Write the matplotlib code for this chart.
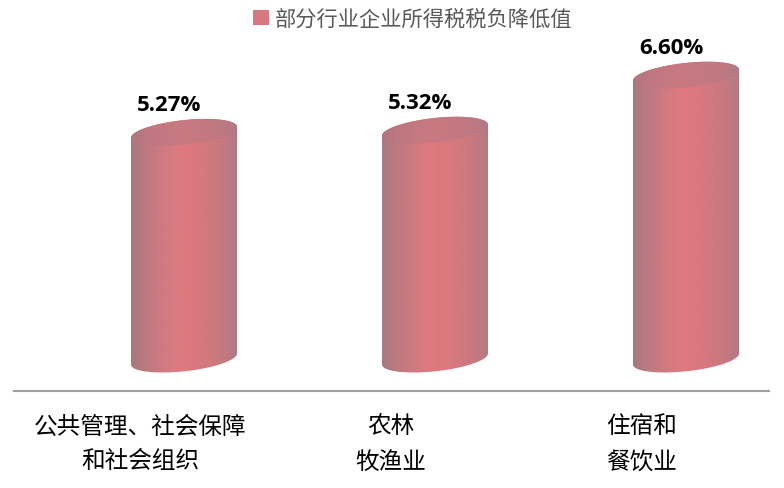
import numpy as np
import matplotlib
matplotlib.use("Agg")
import matplotlib.pyplot as plt
import matplotlib.transforms as mtransforms
from matplotlib.path import Path
from matplotlib.patches import PathPatch, Patch

plt.rcParams['font.family'] = ['Noto Sans CJK SC', 'DejaVu Sans']

# ---- data ----
categories = ["公共管理、社会保障\n和社会组织", "农林\n牧渔业", "住宿和\n餐饮业"]
values = [5.27, 5.32, 6.60]
value_labels = ["5.27%", "5.32%", "6.60%"]
series_name = "部分行业企业所得税税负降低值"

W, H = 784, 489
fig = plt.figure(figsize=(W / 100, H / 100), dpi=100)

# axes: floor line at y-pixel 392, value 0 at 360, 43 px per unit
px_per_unit = 43.0
y_bottom = -(392 - 360) / px_per_unit
y_top = 8.0
ax_h_px = (y_top - y_bottom) * px_per_unit
x_left_px, x_right_px = 14, 769
spacing_px = 251.0
first_center_px = 184.0
x_lo = -(first_center_px - x_left_px) / spacing_px
x_hi = (len(values) - 1) + (x_right_px - (first_center_px + spacing_px * (len(values) - 1))) / spacing_px

ax = fig.add_axes([x_left_px / W, (H - 392) / H, (x_right_px - x_left_px) / W, ax_h_px / H])
ax.set_xlim(x_lo, x_hi)
ax.set_ylim(y_bottom, y_top)
for s in ["top", "right", "left"]:
    ax.spines[s].set_visible(False)
ax.spines["bottom"].set_color("#a0a0a0")
ax.spines["bottom"].set_linewidth(1.5)
ax.set_xticks([])
ax.set_yticks([])
ax.patch.set_alpha(0)

# cylinder geometry (in data units)
a = 53 / spacing_px          # half width
b = 12.3 / px_per_unit       # ellipse half-height
s = 5.5 / px_per_unit        # tilt (left lower)

def ell(xc, yc, t):
    return np.column_stack([xc + a * np.cos(t), yc + b * np.sin(t) + s * np.cos(t)])

# horizontal colour profiles
stops = np.array([0.0, 0.12, 0.3, 0.45, 0.62, 0.8, 0.92, 1.0])
body_cols = np.array([
    [170, 120, 128], [186, 121, 129], [208, 122, 129], [222, 122, 128],
    [218, 120, 126], [205, 120, 127], [190, 122, 130], [172, 124, 133]]) / 255
top_cols = np.array([
    [178, 118, 128], [188, 119, 129], [196, 120, 129], [200, 121, 129],
    [198, 120, 129], [192, 120, 129], [184, 121, 131], [174, 122, 133]]) / 255

def grad(cols, n=256):
    xs = np.linspace(0, 1, n)
    img = np.stack([np.interp(xs, stops, cols[:, k]) for k in range(3)], axis=-1)
    return img[np.newaxis, :, :]

body_img = grad(body_cols)
top_img = grad(top_cols)

for i, v in enumerate(values):
    xc = i
    t_bot = np.linspace(np.pi, 2 * np.pi, 80)
    t_top = np.linspace(0, np.pi, 80)
    body = np.vstack([ell(xc, 0, t_bot), ell(xc, v, t_top)])
    body_path = Path(np.vstack([body, body[:1]]), closed=True)
    bp = PathPatch(body_path, facecolor="none", edgecolor="none", transform=ax.transData)
    ax.add_patch(bp)
    im = ax.imshow(body_img, extent=[xc - a, xc + a, -1, v + 1], aspect="auto",
                   interpolation="bilinear", zorder=2)
    im.set_clip_path(bp)

    t_all = np.linspace(0, 2 * np.pi, 160)
    top = ell(xc, v, t_all)
    top_path = Path(np.vstack([top, top[:1]]), closed=True)
    tp = PathPatch(top_path, facecolor="none", edgecolor="none", transform=ax.transData)
    ax.add_patch(tp)
    im2 = ax.imshow(top_img, extent=[xc - a, xc + a, v - 1, v + 1], aspect="auto",
                    interpolation="bilinear", zorder=3)
    im2.set_clip_path(tp)

    # value label
    tr = mtransforms.offset_copy(ax.transData, fig=fig, x=-15, y=28, units="dots")
    ax.text(xc, v, value_labels[i], transform=tr, ha="center", va="center",
            fontsize=16, fontweight="bold", family=["Open Sans", "DejaVu Sans"],
            color="black", zorder=5)

    # category label (two lines)
    for j, line in enumerate(categories[i].split("\n")):
        trc = mtransforms.offset_copy(ax.transData, fig=fig, x=-44, y=-35 - 35 * j, units="dots")
        ax.text(xc, y_bottom, line, transform=trc, ha="center", va="center",
                fontsize=17, color="black", clip_on=False)

ax.set_xlim(x_lo, x_hi)
ax.set_ylim(y_bottom, y_top)

handle = Patch(facecolor="#d6787f", edgecolor="none")
fig.legend([handle], [series_name], loc="center left", bbox_to_anchor=(253 / W, 1 - 20 / H),
           frameon=False, fontsize=15.3, handlelength=0.75, handleheight=0.66,
           handletextpad=0.28, labelcolor="#595959", borderpad=0, borderaxespad=0)

fig.savefig("out.png", dpi=100, facecolor="white")
